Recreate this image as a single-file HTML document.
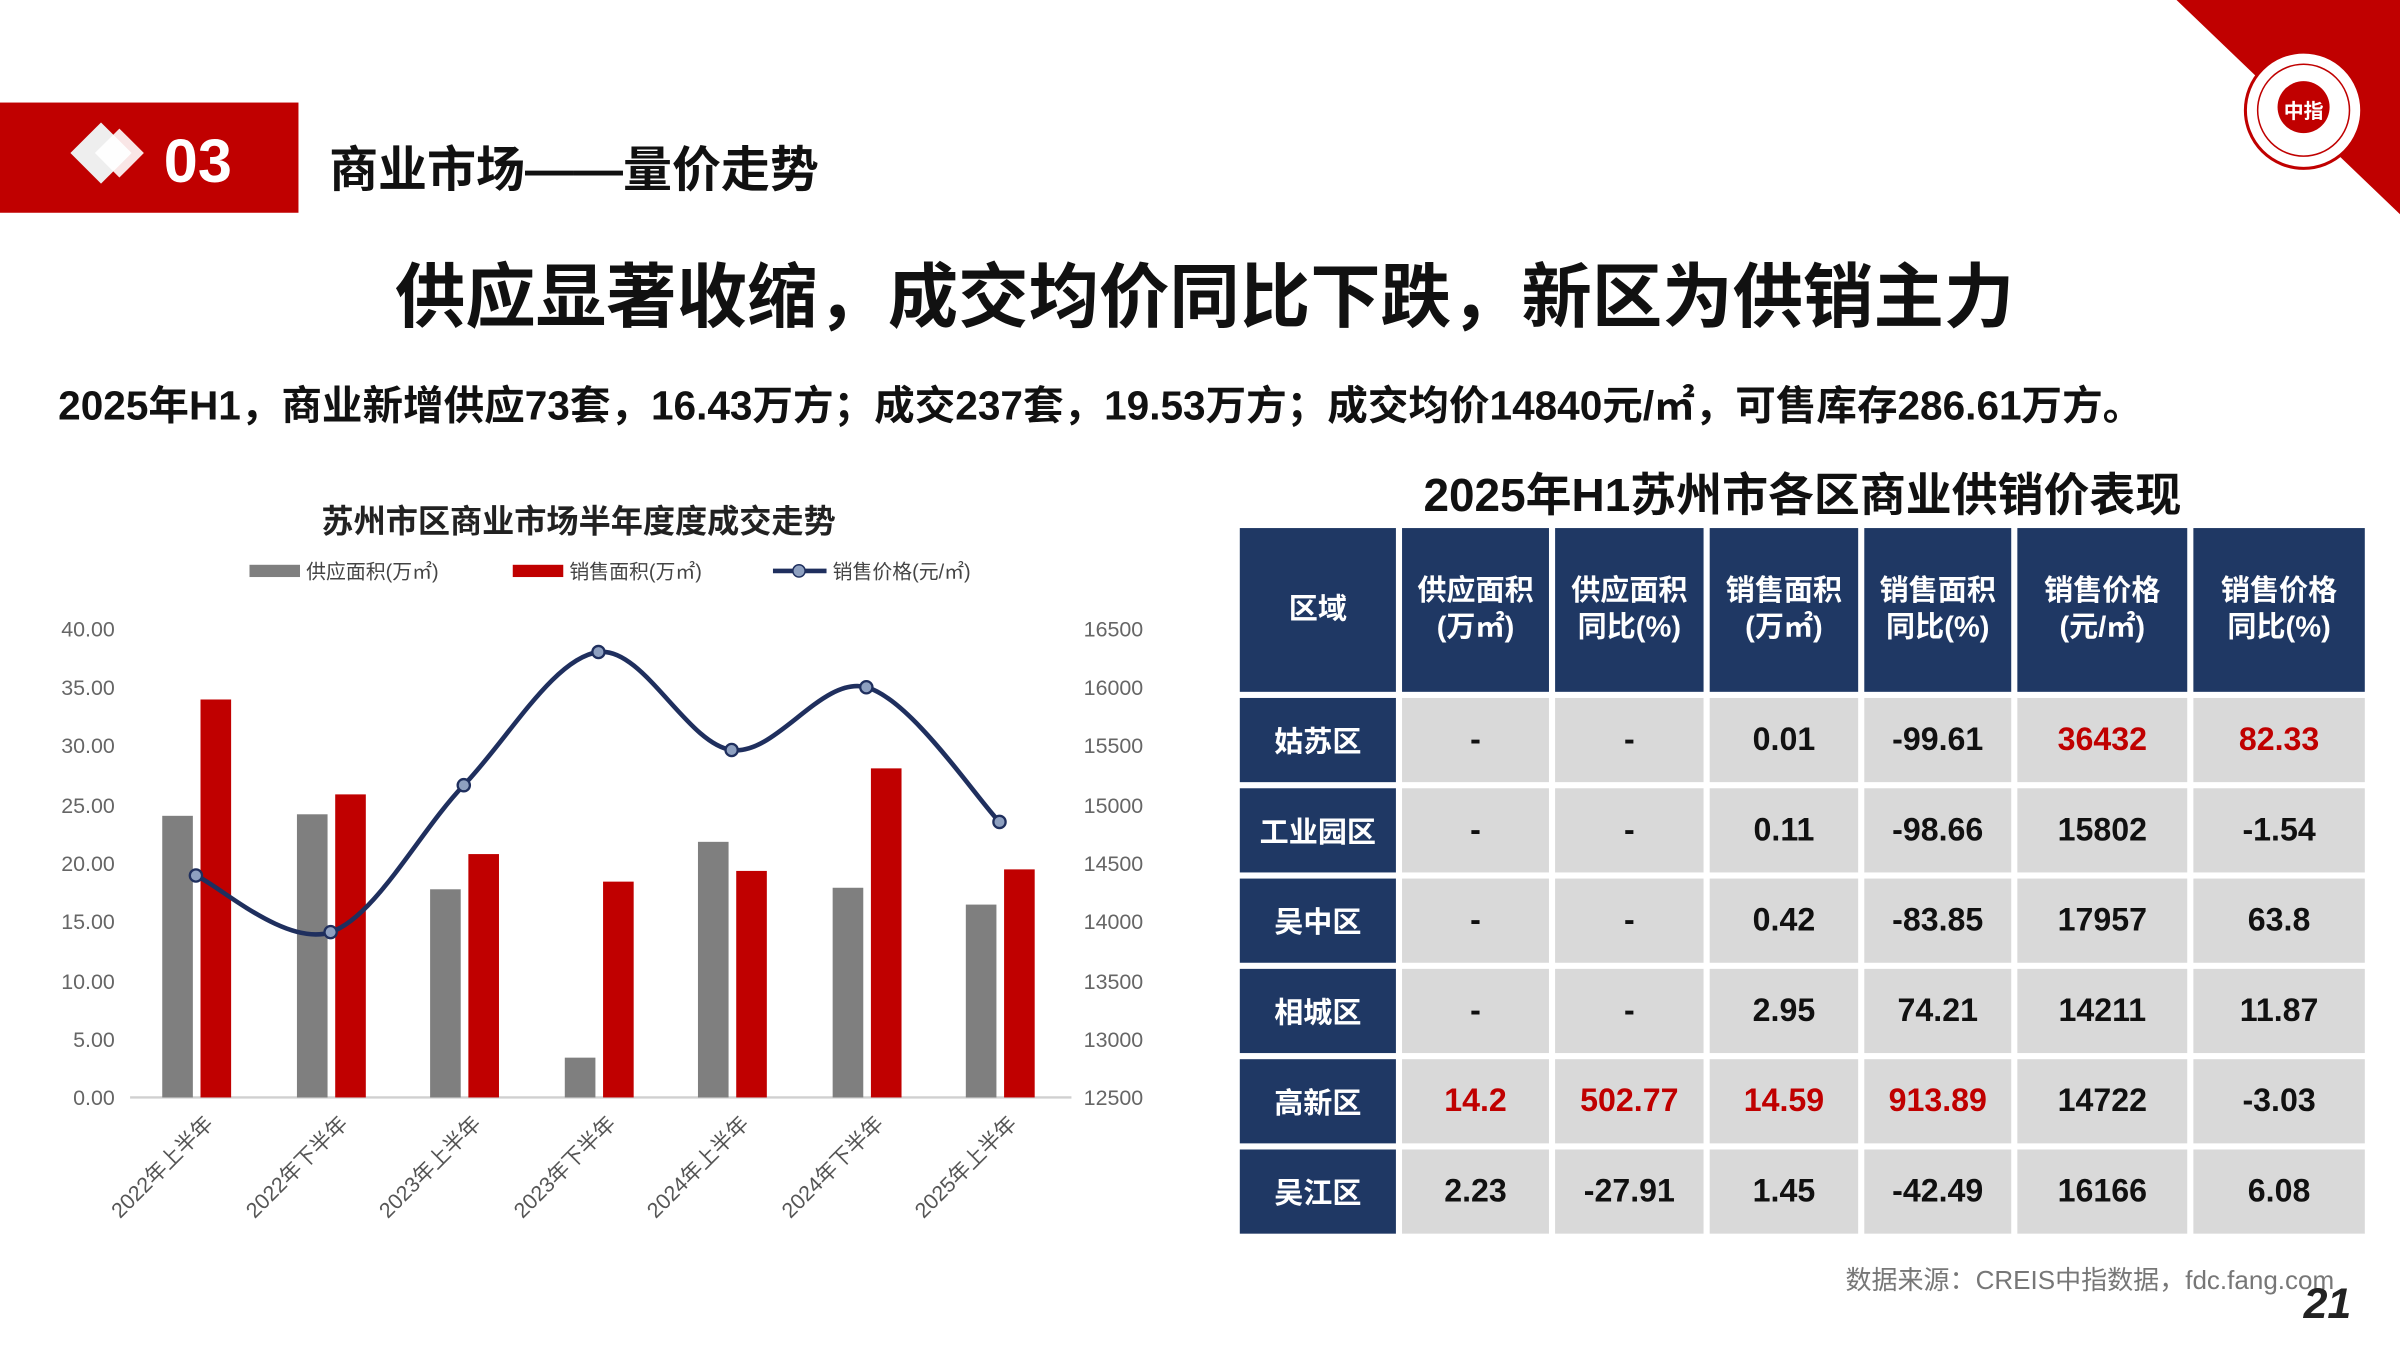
<!DOCTYPE html>
<html><head><meta charset="utf-8">
<style>
html,body{margin:0;padding:0;background:#fff;}
body{width:2400px;height:1350px;overflow:hidden;}
#w{width:1568px;height:882px;position:relative;transform:scale(1.530612);transform-origin:0 0;font-family:"Liberation Sans","Noto Sans CJK SC",sans-serif;}
.a{position:absolute;white-space:nowrap;}
table{position:absolute;left:806px;top:341px;border-collapse:separate;border-spacing:4px;}
td{text-align:center;font-weight:bold;font-size:21px;padding:0;}
td.h{background:#1f3864;color:#fff;font-size:19px;line-height:24px;height:107px;}
td.r{background:#1f3864;color:#fff;font-size:19px;}
td.d{background:#d9d9d9;color:#111;height:55px;}
td.red{color:#c00000;}
</style></head><body><div id="w">
<svg class="a" style="left:0;top:0" width="1568" height="882">
<polygon points="1422,0 1568,0 1568,140" fill="#c00000"/>
<circle cx="1505" cy="72" r="38" fill="#fff" stroke="#c00000" stroke-width="2"/>
<circle cx="1505" cy="72" r="30" fill="none" stroke="#c00000" stroke-width="1"/>
<circle cx="1505" cy="70" r="17" fill="#c00000"/>
<text x="1505" y="77" font-size="13" fill="#fff" text-anchor="middle" font-weight="bold">中指</text>
<rect x="0" y="67" width="195" height="72" fill="#c00000"/>
<polygon points="46,100 66,80 86,100 66,120" fill="#eee"/>
<polygon points="62,100 78,84 94,100 78,116" fill="#fff" opacity=".9"/>
<text x="107" y="119" font-size="40" font-weight="bold" fill="#fff">03</text>
<g font-size="14" fill="#666">
<text x="75" y="416" text-anchor="end">40.00</text><text x="75" y="454" text-anchor="end">35.00</text><text x="75" y="492" text-anchor="end">30.00</text><text x="75" y="531" text-anchor="end">25.00</text><text x="75" y="569" text-anchor="end">20.00</text><text x="75" y="607" text-anchor="end">15.00</text><text x="75" y="646" text-anchor="end">10.00</text><text x="75" y="684" text-anchor="end">5.00</text><text x="75" y="722" text-anchor="end">0.00</text>
<text x="708" y="416">16500</text><text x="708" y="454">16000</text><text x="708" y="492">15500</text><text x="708" y="531">15000</text><text x="708" y="569">14500</text><text x="708" y="607">14000</text><text x="708" y="646">13500</text><text x="708" y="684">13000</text><text x="708" y="722">12500</text>
</g>
<line x1="85" y1="717" x2="700" y2="717" stroke="#d0d0d0" stroke-width="1.5"/>
<g fill="#7f7f7f">
<rect x="106" y="533" width="20" height="184"/><rect x="194" y="532" width="20" height="185"/><rect x="281" y="581" width="20" height="136"/><rect x="369" y="691" width="20" height="26"/><rect x="456" y="550" width="20" height="167"/><rect x="544" y="580" width="20" height="137"/><rect x="631" y="591" width="20" height="126"/>
</g>
<g fill="#c00000">
<rect x="131" y="457" width="20" height="260"/><rect x="219" y="519" width="20" height="198"/><rect x="306" y="558" width="20" height="159"/><rect x="394" y="576" width="20" height="141"/><rect x="481" y="569" width="20" height="148"/><rect x="569" y="502" width="20" height="215"/><rect x="656" y="568" width="20" height="149"/>
</g>
<path d="M128,572 C142.7,578.2 186.8,618.8 216,609 C245.2,599.2 273.8,543.5 303,513 C332.2,482.5 361.8,429.8 391,426 C420.2,422.2 448.8,486.2 478,490 C507.2,493.8 536.8,441.2 566,449 C595.2,456.8 638.5,522.3 653,537" fill="none" stroke="#1f2f5e" stroke-width="3"/>
<g fill="#8ea0c0" stroke="#1f2f5e" stroke-width="1.5">
<circle cx="128" cy="572" r="4"/><circle cx="216" cy="609" r="4"/><circle cx="303" cy="513" r="4"/><circle cx="391" cy="426" r="4"/><circle cx="478" cy="490" r="4"/><circle cx="566" cy="449" r="4"/><circle cx="653" cy="537" r="4"/>
</g>
<g font-size="14" fill="#555" text-anchor="end">
<text transform="translate(140,735) rotate(-45)">2022年上半年</text>
<text transform="translate(228,735) rotate(-45)">2022年下半年</text>
<text transform="translate(315,735) rotate(-45)">2023年上半年</text>
<text transform="translate(403,735) rotate(-45)">2023年下半年</text>
<text transform="translate(490,735) rotate(-45)">2024年上半年</text>
<text transform="translate(578,735) rotate(-45)">2024年下半年</text>
<text transform="translate(665,735) rotate(-45)">2025年上半年</text>
</g>
<rect x="163" y="369" width="33" height="8" fill="#7f7f7f"/>
<rect x="335" y="369" width="33" height="8" fill="#c00000"/>
<line x1="505" y1="373" x2="540" y2="373" stroke="#1f2f5e" stroke-width="3"/>
<circle cx="522" cy="373" r="4" fill="#8ea0c0" stroke="#1f2f5e"/>
<g font-size="13" fill="#444"><text x="200" y="378">供应面积(万㎡)</text><text x="372" y="378">销售面积(万㎡)</text><text x="544" y="378">销售价格(元/㎡)</text></g>
</svg>
<div class="a" style="left:215px;top:86px;font-size:32px;font-weight:bold;color:#111;">商业市场——量价走势</div>
<div class="a" style="left:258px;width:1052px;text-align:center;top:158px;font-size:46px;font-weight:bold;color:#111;">供应显著收缩，成交均价同比下跌，新区为供销主力</div>
<div class="a" style="left:38px;top:243px;font-size:26.5px;font-weight:bold;color:#111;">2025年H1，商业新增供应73套，16.43万方；成交237套，19.53万方；成交均价14840元/㎡，可售库存286.61万方。</div>
<div class="a" style="left:930px;top:299px;font-size:30px;font-weight:bold;color:#111;">2025年H1苏州市各区商业供销价表现</div>
<div class="a" style="left:210px;top:325px;font-size:21px;font-weight:bold;color:#222;">苏州市区商业市场半年度度成交走势</div>
<table>
<tr><td class="h" style="width:102px">区域</td><td class="h" style="width:96px">供应面积<br>(万㎡)</td><td class="h" style="width:97px">供应面积<br>同比(%)</td><td class="h" style="width:97px">销售面积<br>(万㎡)</td><td class="h" style="width:96px">销售面积<br>同比(%)</td><td class="h" style="width:111px">销售价格<br>(元/㎡)</td><td class="h" style="width:112px">销售价格<br>同比(%)</td></tr>
<tr><td class="r">姑苏区</td><td class="d">-</td><td class="d">-</td><td class="d">0.01</td><td class="d">-99.61</td><td class="d red">36432</td><td class="d red">82.33</td></tr>
<tr><td class="r">工业园区</td><td class="d">-</td><td class="d">-</td><td class="d">0.11</td><td class="d">-98.66</td><td class="d">15802</td><td class="d">-1.54</td></tr>
<tr><td class="r">吴中区</td><td class="d">-</td><td class="d">-</td><td class="d">0.42</td><td class="d">-83.85</td><td class="d">17957</td><td class="d">63.8</td></tr>
<tr><td class="r">相城区</td><td class="d">-</td><td class="d">-</td><td class="d">2.95</td><td class="d">74.21</td><td class="d">14211</td><td class="d">11.87</td></tr>
<tr><td class="r">高新区</td><td class="d red">14.2</td><td class="d red">502.77</td><td class="d red">14.59</td><td class="d red">913.89</td><td class="d">14722</td><td class="d">-3.03</td></tr>
<tr><td class="r">吴江区</td><td class="d">2.23</td><td class="d">-27.91</td><td class="d">1.45</td><td class="d">-42.49</td><td class="d">16166</td><td class="d">6.08</td></tr>
</table>
<div class="a" style="right:43px;top:822px;font-size:17px;color:#777;">数据来源：CREIS中指数据，fdc.fang.com</div>
<div class="a" style="left:1505px;top:836px;font-size:28px;font-weight:bold;font-style:italic;color:#222;">21</div>
</div></body></html>
